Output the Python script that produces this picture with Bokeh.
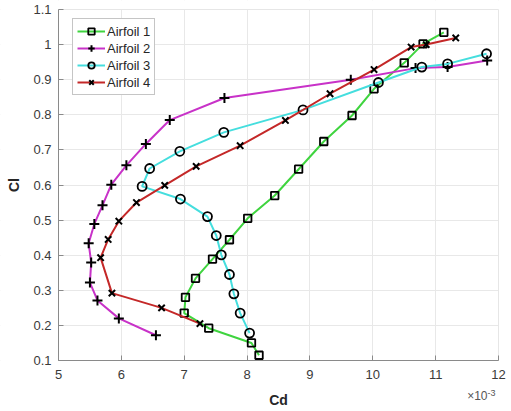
from bokeh.plotting import figure
from bokeh.models import FixedTicker, Range1d, Label, Legend, BoxAnnotation
from bokeh.embed import file_html
from bokeh.resources import INLINE

# Cd values are in units of 1e-3
a1_cd = [8.19, 8.07, 7.39, 7.00, 7.02, 7.18, 7.45, 7.72, 8.01, 8.44, 8.82, 9.22, 9.67, 10.02, 10.50, 10.80, 11.13]
a1_cl = [0.115, 0.150, 0.192, 0.235, 0.280, 0.334, 0.389, 0.444, 0.505, 0.570, 0.645, 0.724, 0.798, 0.874, 0.948, 1.002, 1.035]

a2_cd = [6.55, 5.96, 5.62, 5.50, 5.52, 5.48, 5.57, 5.70, 5.84, 6.08, 6.39, 6.77, 7.64, 9.65, 10.68, 11.19, 11.82]
a2_cl = [0.172, 0.220, 0.271, 0.322, 0.379, 0.434, 0.489, 0.542, 0.601, 0.656, 0.717, 0.785, 0.848, 0.900, 0.933, 0.936, 0.955]

a3_cd = [8.04, 7.89, 7.79, 7.72, 7.59, 7.51, 7.37, 6.94, 6.33, 6.45, 6.93, 7.63, 8.89, 10.09, 10.78, 11.19, 11.81]
a3_cl = [0.178, 0.235, 0.290, 0.345, 0.401, 0.456, 0.510, 0.560, 0.596, 0.647, 0.696, 0.750, 0.814, 0.892, 0.936, 0.945, 0.974]

a4_cd = [7.25, 6.64, 5.85, 5.67, 5.79, 5.96, 6.24, 6.69, 7.19, 7.89, 8.61, 9.32, 10.02, 10.61, 10.85, 11.32]
a4_cl = [0.205, 0.250, 0.292, 0.393, 0.445, 0.497, 0.550, 0.599, 0.653, 0.712, 0.784, 0.860, 0.929, 0.993, 1.000, 1.019]

x_ticks = [5, 6, 7, 8, 9, 10, 11, 12]
y_ticks = [0.1, 0.2, 0.3, 0.4, 0.5, 0.6, 0.7, 0.8, 0.9, 1.0, 1.1]
y_labels = {0.1: "0.1", 0.2: "0.2", 0.3: "0.3", 0.4: "0.4", 0.5: "0.5", 0.6: "0.6",
            0.7: "0.7", 0.8: "0.8", 0.9: "0.9", 1.0: "1", 1.1: "1.1"}

X_MIN, X_MAX = 5, 12
Y_MIN, Y_MAX = 0.1, 1.1

series = [
    ("Airfoil 1", a1_cd, a1_cl, "#3fd43f", "square", 7.5),
    ("Airfoil 2", a2_cd, a2_cl, "#c832c8", "cross", 10),
    ("Airfoil 3", a3_cd, a3_cl, "#45dede", "circle", 9),
    ("Airfoil 4", a4_cd, a4_cl, "#c42828", "x", 9),
]

FONT = "Liberation Sans"

# The frame covers the whole canvas; the axes box sits inside it at these pixels,
# so every text round the box (tick labels, axis titles, x10^-3 note) is drawn in the frame.
W, H = 511, 411
BOX_L, BOX_R, BOX_T, BOX_B = 58, 498, 9, 360
xpu = (BOX_R - BOX_L) / (X_MAX - X_MIN)
ypu = (BOX_B - BOX_T) / (Y_MAX - Y_MIN)
x_range = Range1d(X_MIN - BOX_L / xpu, X_MAX + (W - BOX_R) / xpu)
y_range = Range1d(Y_MIN - (H - BOX_B) / ypu, Y_MAX + BOX_T / ypu)

p = figure(width=W, height=H, output_backend="svg", toolbar_location=None,
           x_range=x_range, y_range=y_range,
           min_border_left=0, min_border_right=0, min_border_top=0, min_border_bottom=0)
p.background_fill_color = "white"
p.border_fill_color = "white"
p.outline_line_color = None

# hide grid lines outside the axes box, then draw the light box outline
for kw in (dict(top=Y_MIN), dict(bottom=Y_MAX), dict(right=X_MIN), dict(left=X_MAX)):
    p.add_layout(BoxAnnotation(fill_color="white", fill_alpha=1, line_color=None,
                               level="underlay", **kw))
p.add_layout(BoxAnnotation(left=X_MIN, right=X_MAX, bottom=Y_MIN, top=Y_MAX,
                           fill_alpha=0, line_color="#c8c8c8", line_width=1,
                           level="underlay"))

items = []
for name, xs, ys, col, mk, sz in series:
    l = p.line(xs, ys, line_color=col, line_width=2)
    s = p.scatter(xs, ys, marker=mk, size=sz, line_color="black", fill_color=None,
                  line_width=2 if mk in ("cross", "x") else 1.8)
    items.append((name, [l, s]))

# tuple location: bottom-left corner of the legend, from the frame's bottom-left
legend = Legend(items=items, location=(72, 316))
legend.padding = 4
legend.spacing = 1
legend.glyph_width = 28
legend.glyph_height = 16
legend.label_height = 16
legend.label_standoff = 2
legend.label_text_font = FONT
legend.label_text_font_size = "13px"
legend.label_text_color = "#262626"
legend.border_line_color = "#8c8c8c"
legend.border_line_width = 1
legend.background_fill_color = "white"
legend.background_fill_alpha = 1
p.add_layout(legend)

for ax in (p.xaxis[0], p.yaxis[0]):
    ax.axis_line_color = "#8a8a8a"
    ax.major_tick_line_color = "#8a8a8a"
    ax.major_tick_in = 5
    ax.major_tick_out = 0
    ax.minor_tick_line_color = None
    ax.major_label_text_font = FONT
    ax.major_label_text_font_size = "13px"
    ax.major_label_text_color = "#3a3a3a"
    ax.axis_label_text_font = FONT
    ax.axis_label_text_font_size = "14px"
    ax.axis_label_text_font_style = "bold"
    ax.axis_label_text_color = "#262626"

p.xaxis.ticker = FixedTicker(ticks=x_ticks)
p.yaxis.ticker = FixedTicker(ticks=y_ticks)
p.yaxis.major_label_overrides = y_labels
p.xaxis.fixed_location = Y_MIN
p.yaxis.fixed_location = X_MIN
p.xaxis.bounds = (X_MIN, X_MAX)
p.yaxis.bounds = (Y_MIN, Y_MAX)
p.xaxis.axis_label = "Cd"
p.yaxis.axis_label = "Cl"
p.xaxis.major_label_standoff = 9
p.yaxis.major_label_standoff = 7
p.xaxis.axis_label_standoff = 10
p.yaxis.axis_label_standoff = 8

p.xgrid.ticker = FixedTicker(ticks=x_ticks)
p.ygrid.ticker = FixedTicker(ticks=y_ticks)
p.grid.grid_line_color = "#e8e8e8"
p.grid.grid_line_width = 1

# screen units are measured from the frame's bottom-left corner
p.add_layout(Label(x=487, y=9, x_units="screen", y_units="screen", text="×10",
                   text_font=FONT, text_font_size="12px", text_color="#555555",
                   text_align="right", text_baseline="bottom"))
p.add_layout(Label(x=487, y=16, x_units="screen", y_units="screen", text="-3",
                   text_font=FONT, text_font_size="9px", text_color="#555555",
                   text_align="left", text_baseline="bottom"))

open("out.html", "w").write(file_html(p, INLINE))
